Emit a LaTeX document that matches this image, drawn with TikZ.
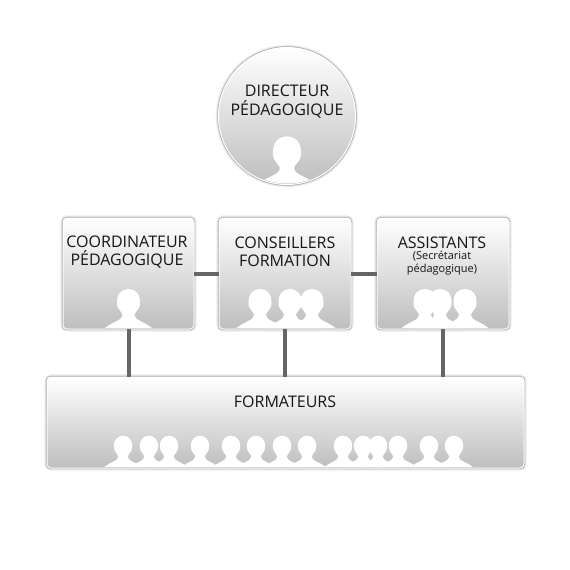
\documentclass[tikz,border=0pt]{standalone}
\usepackage{fontspec}
\setmainfont{Open Sans}
\definecolor{boxgray}{HTML}{BEBEBE}
\definecolor{edgegray}{HTML}{A8A8A8}
\definecolor{linkgray}{HTML}{666666}
\definecolor{inkgray}{HTML}{151515}
\tikzset{
  softcard/.style={
    preaction={draw=black,opacity=.04,line width=6pt},
    preaction={draw=black,opacity=.05,line width=4.4pt},
    preaction={draw=edgegray,line width=2.4pt},
    draw=white,line width=1pt,top color=white,bottom color=boxgray,
    inner sep=0pt,outer sep=0pt},
  card/.style={softcard,rectangle,rounded corners=4pt},
  disc/.style={softcard,circle,minimum size=137pt},
  link/.style={draw=linkgray,line width=4pt},
  title/.style={text=inkgray,font=\fontsize{16}{18.3}\selectfont,align=center,inner sep=0pt},
  small/.style={text=inkgray,font=\fontsize{11}{13}\selectfont,align=center,inner sep=0pt},
  person/.pic={
    \fill[white] (-23.5,0) .. controls (-20,-3) and (-15.5,-5) .. (-12,-6.8)
      .. controls (-9,-8.3) and (-6,-10) .. (-5.8,-13)
      .. controls (-6,-15) and (-8.5,-17) .. (-10,-19.5)
      .. controls (-11,-21) and (-11.6,-22.5) .. (-11.5,-24.5)
      .. controls (-12,-34) and (-7,-39) .. (0,-39)
      .. controls (7,-39) and (12,-34) .. (11.5,-24.5)
      .. controls (11.6,-22.5) and (11,-21) .. (10,-19.5)
      .. controls (8.5,-17) and (6,-15) .. (5.8,-13)
      .. controls (6,-10) and (9,-8.3) .. (12,-6.8)
      .. controls (15.5,-5) and (20,-3) .. (23.5,0) -- cycle;
  }
}
\begin{document}
\begin{tikzpicture}[x=1pt,y=-1pt]
\useasboundingbox (0,0) rectangle (570,570);
\fill[white] (0,0) rectangle (570,570);
% boxes
\node[disc] (dir) at (287,116) {};
\node[card,minimum width=131pt,minimum height=111pt] (coord) at (128.5,273.5) {};
\node[card,minimum width=132pt,minimum height=111pt] (cons) at (285,273.5) {};
\node[card,minimum width=132pt,minimum height=111pt] (asst) at (443,273.5) {};
\node[card,minimum width=477pt,minimum height=91pt] (form) at (285.5,422.5) {};
% links
\draw[link] (coord.east) -- (cons.west);
\draw[link] (cons.east) -- (asst.west);
\draw[link] (coord.south) -- (coord.south |- form.north);
\draw[link] (cons.south) -- (cons.south |- form.north);
\draw[link] (asst.south) -- (asst.south |- form.north);
% silhouettes
\begin{scope}
  \clip (dir.center) circle (67.5);
  \pic[scale=1.22] at (287,184) {person};
\end{scope}
\pic at (128.5,328) {person};
\begin{scope}
  \clip (219.5,218.5) rectangle (350.5,328.5);
  \pic at (260,328) {person};
  \pic at (290,328) {person};
  \pic at (312,328) {person};
\end{scope}
\begin{scope}
  \clip (377.5,218.5) rectangle (508.5,328.5);
  \pic at (425,328) {person};
  \pic at (440,328) {person};
  \pic at (465,328) {person};
\end{scope}
\foreach \hx in {123,149,169,200,231,256,282,307,343,363,378,398,429,454}
  \pic[scale=.8] at (\hx,467) {person};
% labels
\node[title] (dirt) at (287,101.5) {DIRECTEUR\\PÉDAGOGIQUE};
\node[title] (coordt) at (127,252) {COORDINATEUR\\PÉDAGOGIQUE};
\node[title] (const) at (285,252) {CONSEILLERS\\FORMATION};
\node[title] (asstt) at (442,243) {ASSISTANTS};
\node[small] (assts) at (442,263.5) {(Secrétariat\\pédagogique)};
\node[title] (formt) at (285,402) {FORMATEURS};
\end{tikzpicture}
\end{document}
